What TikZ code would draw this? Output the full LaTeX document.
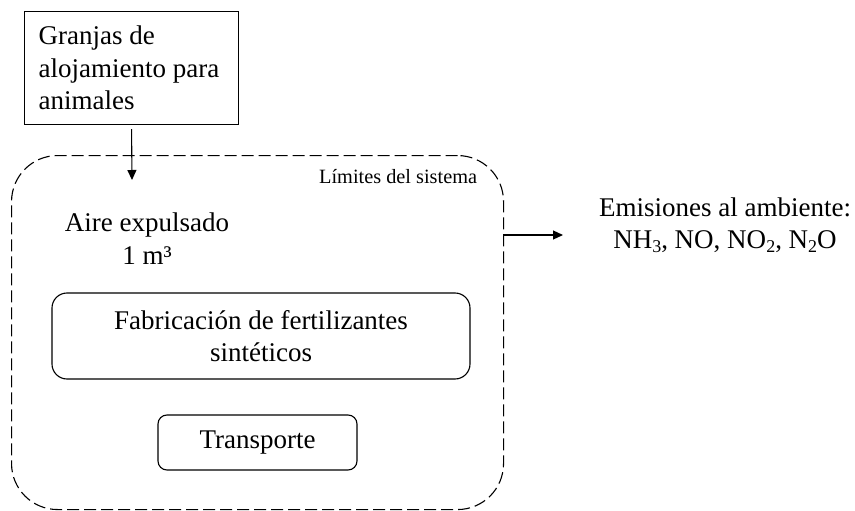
\documentclass[tikz,border=0pt]{standalone}
\usepackage{fontspec}
\setmainfont{Liberation Serif}
\usetikzlibrary{arrows.meta}
\newcommand{\lowsub}[1]{\raisebox{-0.3ex}{\fontsize{18}{18}\selectfont #1}}
\tikzset{
  big/.style={font=\fontsize{27}{32.5}\selectfont},
  small/.style={font=\fontsize{20.3}{24}\selectfont},
  box/.style={draw, line width=1.1pt, big, inner sep=0pt},
  rbox/.style={box, rounded corners=#1},
  sysbox/.style={draw, line width=1.1pt, dash pattern=on 12pt off 5pt, rounded corners=46pt, inner sep=0pt},
  flow/.style={line width=1.1pt, -{Triangle[length=10pt,width=9pt]}}
}
\begin{document}
\begin{tikzpicture}[x=1pt,y=-1pt]
\useasboundingbox (0,0) rectangle (855,511);
% system boundary
\node[sysbox, minimum width=492pt, minimum height=354pt, anchor=north west] (sys) at (11,155) {};
\node[small, anchor=base west, inner sep=0pt] (lim) at (319,183) {Límites del sistema};
% source box
\node[box, anchor=north west, minimum width=214pt, minimum height=113pt, text width=186pt, inner xsep=14pt, align=flush left] (gr) at (24,11) {Granjas de\\alojamiento para\\animales};
\coordinate (inp) at (132,180);
\draw[flow] ([yshift=-4pt]gr.south) -- (inp);
% air
\node[big, align=center, anchor=base, inner sep=0pt] (air) at (147,264) {Aire expulsado\\1 m³};
% processes
\node[rbox=15pt, minimum width=418pt, minimum height=86pt, align=center] (fab) at (261,336) {Fabricación de fertilizantes\\sintéticos};
\node[rbox=9pt, minimum width=199pt, minimum height=55pt] (tra) at (257.5,442.5) {Transporte};
% emissions
\coordinate (sysr) at (503,235);
\coordinate (emi) at (563,235);
\draw[flow] (sysr) -- (emi);
\node[big, align=center, inner sep=0pt] (em) at (725,225) {Emisiones al ambiente:\\NH\lowsub{3}, NO, NO\lowsub{2}, N\lowsub{2}O};
\end{tikzpicture}
\end{document}
